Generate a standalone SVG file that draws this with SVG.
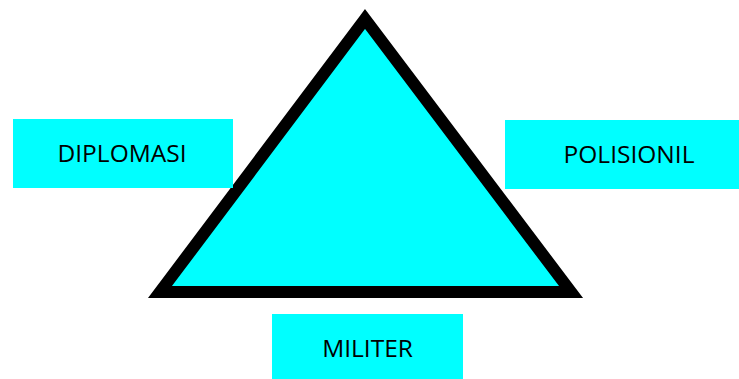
<svg xmlns="http://www.w3.org/2000/svg" width="739" height="379" viewBox="0 0 739 379">
<style>
.box{fill:#00ffff;stroke:none}
.lbl{font-family:"Open Sans","Liberation Sans",sans-serif;font-size:24.5px;fill:#000;text-anchor:middle}
</style>
<rect width="739" height="379" fill="#fff"/>
<g id="triangle">
<polygon points="365,19 160,292 571,292" fill="#00ffff" stroke="#000" stroke-width="12" stroke-linejoin="miter" stroke-miterlimit="10"/>
</g>
<g id="connectors"></g>
<g id="diplomasi">
<rect class="box" x="13" y="119" width="220" height="69"/>
<text class="lbl" x="122" y="162">DIPLOMASI</text>
</g>
<g id="polisionil">
<rect class="box" x="505" y="120" width="234" height="69"/>
<text class="lbl" x="629" y="163">POLISIONIL</text>
</g>
<g id="militer">
<rect class="box" x="272" y="314" width="191" height="65"/>
<text class="lbl" x="367.5" y="357">MILITER</text>
</g>
</svg>
